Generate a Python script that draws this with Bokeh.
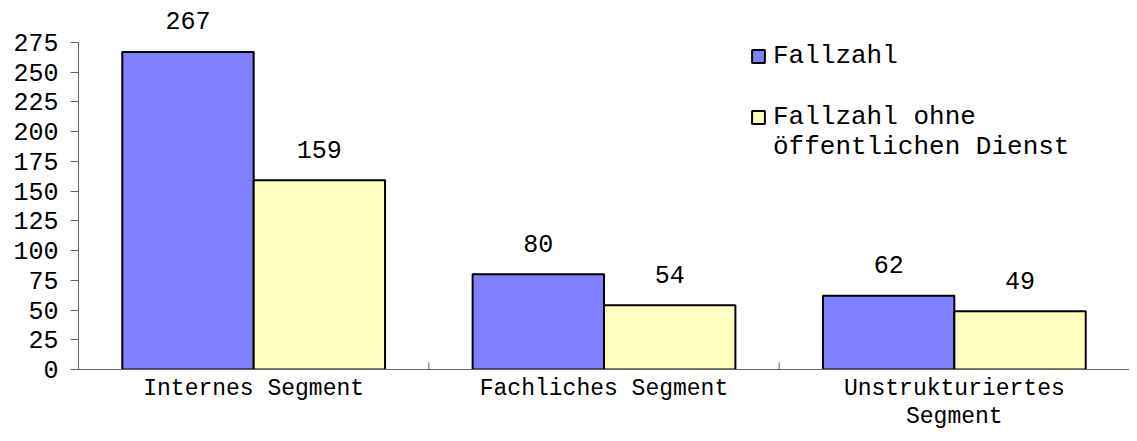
from bokeh.plotting import figure
from bokeh.models import (ColumnDataSource, FactorRange, Range1d, Legend, LegendItem,
                          FixedTicker)
from bokeh.transform import dodge
from bokeh.core.properties import value
from bokeh.embed import file_html
from bokeh.resources import INLINE

categories = ["Internes Segment", "Fachliches Segment", "Unstrukturiertes\nSegment"]
fallzahl = [267, 80, 62]
ohne_oed = [159, 54, 49]
series_names = ["Fallzahl", "Fallzahl ohne", "öffentlichen Dienst"]
y_ticks = [0, 25, 50, 75, 100, 125, 150, 175, 200, 225, 250, 275]

FONT = "Liberation Mono"
AXIS_COL = "#666666"

src = ColumnDataSource(dict(
    cat=categories, a=fallzahl, b=ohne_oed,
    a_lbl=[str(v) for v in fallzahl], b_lbl=[str(v) for v in ohne_oed],
))
bsrc = ColumnDataSource(dict(cat=categories[:-1], y0=[0] * (len(categories) - 1),
                             y1=[6] * (len(categories) - 1)))

p = figure(x_range=FactorRange(factors=categories, range_padding=0),
           y_range=Range1d(0, 310.2),
           width=1129, height=433, output_backend="svg", toolbar_location=None,
           min_border_left=78, min_border_right=0, min_border_top=0, min_border_bottom=63)
p.outline_line_color = None
p.xgrid.visible = False
p.ygrid.visible = False
p.background_fill_color = "white"
p.border_fill_color = "white"

r1 = p.vbar(x=dodge('cat', -0.1875, range=p.x_range), top='a', width=0.375, source=src,
            fill_color="#8080FF", line_color="black", line_width=2)
r2 = p.vbar(x=dodge('cat', 0.1875, range=p.x_range), top='b', width=0.375, source=src,
            fill_color="#FFFFC0", line_color="black", line_width=2)
# invisible renderer carrying the second line of the second legend entry
r_blank = p.vbar(x=dodge('cat', 0.1875, range=p.x_range), top='b', width=0.375,
                 source=ColumnDataSource(dict(cat=[], b=[])),
                 fill_alpha=0, line_alpha=0)

p.text(x=dodge('cat', -0.1875, range=p.x_range), y='a', text='a_lbl', source=src,
       y_offset=-31, text_align="center", text_baseline="middle",
       text_font=value(FONT), text_font_size="25px", text_color="black")
p.text(x=dodge('cat', 0.1875, range=p.x_range), y='b', text='b_lbl', source=src,
       y_offset=-31, text_align="center", text_baseline="middle",
       text_font=value(FONT), text_font_size="25px", text_color="black")

# category boundary ticks
p.segment(x0=dodge('cat', 0.5, range=p.x_range), x1=dodge('cat', 0.5, range=p.x_range),
          y0='y0', y1='y1', source=bsrc, line_color=AXIS_COL, line_width=1)

ya = p.yaxis[0]
ya.ticker = FixedTicker(ticks=y_ticks)
ya.bounds = (0, 275)
ya.major_tick_out = 8
ya.major_tick_in = 0
ya.minor_tick_line_color = None
ya.axis_line_color = AXIS_COL
ya.major_tick_line_color = AXIS_COL
ya.major_label_text_font = FONT
ya.major_label_text_font_size = "25px"
ya.major_label_text_color = "black"
ya.major_label_standoff = 12

xa = p.xaxis[0]
xa.major_tick_line_color = None
xa.major_tick_out = 0
xa.major_tick_in = 0
xa.axis_line_color = AXIS_COL
xa.major_label_text_font = FONT
xa.major_label_text_font_size = "23px"
xa.major_label_text_color = "black"
xa.major_label_text_line_height = 1.1
xa.major_label_standoff = 6

common = dict(glyph_width=16, glyph_height=16,
              label_text_font=FONT, label_text_font_size="26px",
              label_text_color="black", label_standoff=7,
              border_line_color=None, background_fill_alpha=0,
              padding=0, margin=0, spacing=0)
legend1 = Legend(items=[LegendItem(label=series_names[0], renderers=[r1])],
                 location=(672, 298), **common)
legend2 = Legend(items=[LegendItem(label=series_names[1], renderers=[r2]),
                        LegendItem(label=series_names[2], renderers=[r_blank])],
                 location=(672, 207), **common)
p.add_layout(legend1)
p.add_layout(legend2)

open("out.html", "w").write(file_html(p, INLINE))
